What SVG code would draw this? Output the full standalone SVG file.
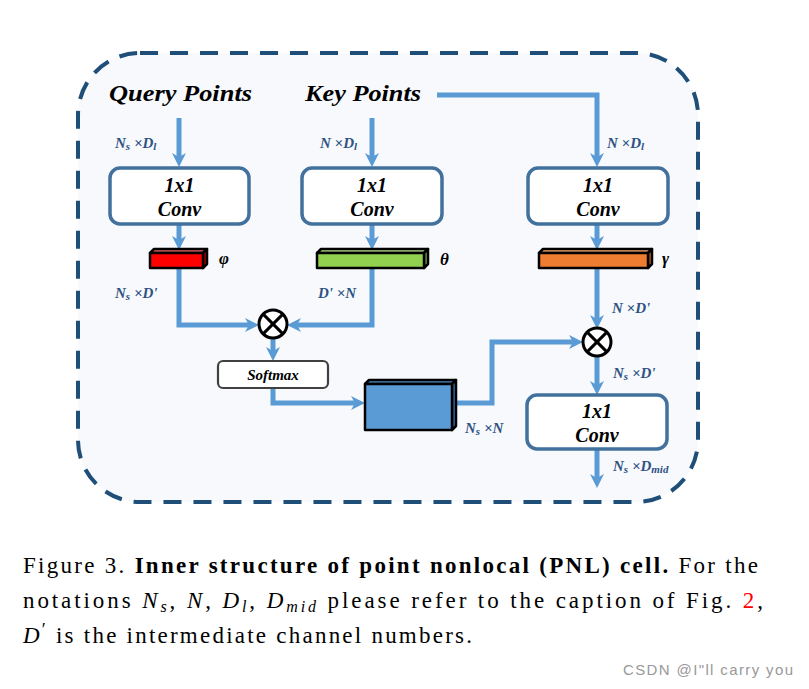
<svg xmlns="http://www.w3.org/2000/svg" width="809" height="689" viewBox="0 0 809 689">
<style>
.conn{fill:none;stroke:#5b9bd5;stroke-width:5;stroke-linejoin:miter}
.arr{marker-end:url(#ah)}
.conv{fill:#fff;stroke:#41719c;stroke-width:3.5}
.serif{font-family:'Liberation Serif','Times New Roman',Times,'DejaVu Serif','Noto Serif',serif}
.ct{font-weight:bold;font-style:italic;font-size:20px;fill:#000;text-anchor:middle}
.title{font-weight:bold;font-style:italic;font-size:23px;fill:#000}
.lab{font-weight:bold;font-style:italic;font-size:15px;fill:#2f5283}
.sub{font-size:11px}
.greek{font-weight:bold;font-style:italic;font-size:17px;fill:#000}
.bar{stroke:#000;stroke-width:2.5;stroke-linejoin:round}
.otimes circle{fill:#fff;stroke:#000;stroke-width:3}
.otimes line{stroke:#000;stroke-width:3}
.cap{font-size:23px;fill:#000}
</style>
<defs>
<marker id="ah" markerUnits="userSpaceOnUse" markerWidth="16" markerHeight="16" refX="7" refY="7" orient="auto">
<path d="M0,0 L14,7 L0,14 L4,7 z" fill="#5b9bd5"/>
</marker>
</defs>
<rect x="78" y="53" width="620" height="449" rx="62" ry="62" fill="#f7f9fc" stroke="#1f4e79" stroke-width="4" stroke-dasharray="18 12"/>

<g id="connectors">
<path class="conn arr" d="M179,118 V160"/>
<path class="conn arr" d="M372,118 V160"/>
<path class="conn arr" d="M437,95 H597 V160"/>
<path class="conn arr" d="M179,224 V243"/>
<path class="conn arr" d="M372,224 V243"/>
<path class="conn arr" d="M597,224 V243"/>
<path class="conn arr" d="M179,268 V325 H252"/>
<path class="conn arr" d="M372,268 V325 H294"/>
<path class="conn arr" d="M273,339 V354"/>
<path class="conn arr" d="M273,388 V403 H358"/>
<path class="conn arr" d="M456,403 H492 V342 H576"/>
<path class="conn arr" d="M597,268 V322"/>
<path class="conn arr" d="M597,356 V388"/>
<path class="conn arr" d="M597,449 V481"/>
</g>

<g id="query-points"><text class="serif title" x="109" y="101" textLength="143" lengthAdjust="spacingAndGlyphs">Query Points</text></g>
<g id="key-points"><text class="serif title" x="305" y="101" textLength="116" lengthAdjust="spacingAndGlyphs">Key Points</text></g>

<g id="conv1"><rect class="conv" x="110" y="168" width="139" height="56" rx="10"/>
<text class="serif ct" x="179.5" y="192">1x1</text><text class="serif ct" x="179.5" y="216">Conv</text></g>
<g id="conv2"><rect class="conv" x="302" y="168" width="140" height="56" rx="10"/>
<text class="serif ct" x="372" y="192">1x1</text><text class="serif ct" x="372" y="216">Conv</text></g>
<g id="conv3"><rect class="conv" x="528" y="168" width="140" height="56" rx="10"/>
<text class="serif ct" x="598" y="192">1x1</text><text class="serif ct" x="598" y="216">Conv</text></g>
<g id="conv4"><rect class="conv" x="527" y="395" width="140" height="54" rx="10"/>
<text class="serif ct" x="597" y="418">1x1</text><text class="serif ct" x="597" y="442">Conv</text></g>

<g id="phi">
<polygon class="bar" points="150,253 154,249 207,249 203,253" fill="#e06060"/>
<polygon class="bar" points="203,253 207,249 207,264 203,268" fill="#b00000"/>
<rect class="bar" x="150" y="253" width="53" height="15" fill="#ff0000"/>
<text class="serif greek" x="219" y="264">φ</text>
</g>
<g id="theta">
<polygon class="bar" points="317,253 321,249 428,249 424,253" fill="#b5dd8a"/>
<polygon class="bar" points="424,253 428,249 428,264 424,268" fill="#70a040"/>
<rect class="bar" x="317" y="253" width="107" height="15" fill="#92d050"/>
<text class="serif greek" x="440" y="265">θ</text>
</g>
<g id="gamma">
<polygon class="bar" points="539,253 543,249 652,249 648,253" fill="#f4a870"/>
<polygon class="bar" points="648,253 652,249 652,264 648,268" fill="#c05a1a"/>
<rect class="bar" x="539" y="253" width="109" height="15" fill="#ed7d31"/>
<text class="serif greek" x="662" y="264">γ</text>
</g>

<g id="mul1" class="otimes"><circle cx="273" cy="324" r="14"/>
<line x1="263.1" y1="314.1" x2="282.9" y2="333.9"/><line x1="282.9" y1="314.1" x2="263.1" y2="333.9"/></g>
<g id="mul2" class="otimes"><circle cx="597" cy="342" r="14"/>
<line x1="587.1" y1="332.1" x2="606.9" y2="351.9"/><line x1="606.9" y1="332.1" x2="587.1" y2="351.9"/></g>

<g id="softmax"><rect x="218" y="361" width="110" height="27" rx="5" fill="#fff" stroke="#404040" stroke-width="2.2"/>
<text class="serif" x="273" y="380" text-anchor="middle" font-weight="bold" font-style="italic" font-size="15">Softmax</text></g>

<g id="attention-map">
<polygon class="bar" points="365,384 369,380 456,380 452,384" fill="#4a86c0" stroke-width="3"/>
<polygon class="bar" points="452,384 456,380 456,426 452,430" fill="#3a70a8" stroke-width="3"/>
<rect class="bar" x="365" y="384" width="87" height="46" fill="#5b9bd5" stroke-width="3"/>
</g>

<g id="labels" class="serif">
<text class="lab" x="115" y="148">N<tspan class="sub" dy="2">s</tspan><tspan dy="-2"> ×D</tspan><tspan class="sub" dy="2">l</tspan></text>
<text class="lab" x="320" y="148">N ×D<tspan class="sub" dy="2">l</tspan></text>
<text class="lab" x="607" y="148">N ×D<tspan class="sub" dy="2">l</tspan></text>
<text class="lab" x="115" y="298">N<tspan class="sub" dy="2">s</tspan><tspan dy="-2"> ×D'</tspan></text>
<text class="lab" x="318" y="298">D' ×N</text>
<text class="lab" x="612" y="313">N ×D'</text>
<text class="lab" x="613" y="378">N<tspan class="sub" dy="2">s</tspan><tspan dy="-2"> ×D'</tspan></text>
<text class="lab" x="465" y="433">N<tspan class="sub" dy="2">s</tspan><tspan dy="-2"> ×N</tspan></text>
<text class="lab" x="613" y="471">N<tspan class="sub" dy="2">s</tspan><tspan dy="-2"> ×D</tspan><tspan class="sub" dy="2">mid</tspan></text>
</g>

<g id="caption" class="serif">
<text class="cap" x="23" y="573" textLength="735" lengthAdjust="spacing">Figure 3. <tspan font-weight="bold">Inner structure of point nonlocal (PNL) cell.</tspan> For the</text>
<text class="cap" x="23" y="608" textLength="740" lengthAdjust="spacing">notations <tspan font-style="italic">N</tspan><tspan font-style="italic" font-size="16" dy="4">s</tspan><tspan dy="-4">, </tspan><tspan font-style="italic">N</tspan>, <tspan font-style="italic">D</tspan><tspan font-style="italic" font-size="16" dy="4">l</tspan><tspan dy="-4">, </tspan><tspan font-style="italic">D</tspan><tspan font-style="italic" font-size="16" dy="4">mid</tspan><tspan dy="-4"> please refer to the caption of Fig. </tspan><tspan fill="#ff0000">2</tspan>,</text>
<text class="cap" x="23" y="643" textLength="449" lengthAdjust="spacing"><tspan font-style="italic">D</tspan><tspan font-size="18" dy="-7">′</tspan><tspan dy="7"> is the intermediate channel numbers.</tspan></text>
</g>
<text x="623" y="675" font-family="'Liberation Sans',Arial,sans-serif" font-size="15" fill="#999" textLength="170" lengthAdjust="spacing">CSDN @I"ll  carry  you</text>
</svg>
